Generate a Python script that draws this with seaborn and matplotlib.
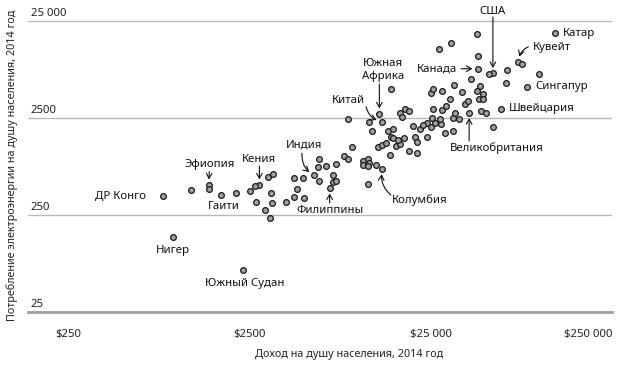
import numpy as np
import pandas as pd
import matplotlib
matplotlib.use("Agg")
import matplotlib.pyplot as plt
import seaborn as sns

sns.set_style("white")
plt.rcParams['font.family'] = ['Noto Sans', 'DejaVu Sans']

# labelled countries: income per capita ($, 2014) and electricity use per capita
labels = ['ДР Конго', 'Нигер', 'Южный Судан', 'Гаити', 'Эфиопия', 'Кения',
          'Индия', 'Филиппины', 'Колумбия', 'Китай', 'Южная\nАфрика', 'Канада',
          'США', 'Катар', 'Кувейт', 'Сингапур', 'Швейцария', 'Великобритания']
label_income = [830, 950, 2300, 1750, 1490, 2840,
                5660, 6930, 13550, 13430, 13030, 45600,
                55100, 121900, 76200, 85300, 61100, 40740]
label_power = [390, 150, 67, 400, 510, 510,
               640, 475, 750, 2280, 2750, 8050,
               7190, 18660, 9440, 5260, 3120, 2840]

# the rest of the countries
other_income = [1190, 1500, 2120, 2520, 2680, 3180, 3370, 2730, 3300, 3330,
                3060, 3240, 3980, 4400, 4930, 4560, 4400, 5010, 6040, 5980,
                6590, 6040, 7520, 7260, 7260, 7520, 8360, 8730, 9250, 8730,
                10590, 11320, 11430, 10590, 11320, 12450, 11250, 11800, 12880, 13430,
                14260, 15140, 14830, 16000, 16830, 14560, 15520, 11480, 16830, 18070,
                18920, 17300, 19910, 15560, 16410, 17820, 19100, 20940, 20560, 20940,
                21880, 23770, 23710, 25290, 25700, 24950, 15030, 22700, 25060, 26550,
                28380, 29990, 33040, 27990, 33340, 35890, 28910, 30550, 33960, 47420,
                50350, 55080, 38730, 40090, 31990, 25700, 28910, 37150, 33500, 41780,
                46770, 44880, 48640, 46450, 48640, 45600, 52720, 45290, 32510, 27800,
                65770, 65160, 79800, 99080]
other_power = [453, 465, 425, 439, 501, 621, 662, 343, 425, 335,
               282, 233, 338, 602, 602, 460, 386, 374, 938, 776,
               800, 561, 834, 650, 551, 561, 1014, 951, 1247, 2427,
               901, 951, 853, 813, 800, 813, 528, 1849, 1265, 1309,
               1371, 1603, 1031, 1300, 1349, 1858, 1941, 2291, 2838, 3097,
               2951, 2559, 2070, 1567, 1466, 1567, 1135, 1097, 1603, 1403,
               1928, 2239, 1603, 2500, 3062, 4529, 4977, 2094, 2042, 2194,
               2143, 1762, 1816, 2460, 2483, 2460, 3020, 3327, 2793, 2931,
               2793, 2004, 3459, 3767, 3954, 4977, 4710, 4634, 5433, 6266,
               5346, 4775, 4416, 3899, 3899, 10890, 7112, 18365, 14723, 12942,
               7816, 5781, 8954, 7063]

x_ticks = [250, 2500, 25000, 250000]
x_tick_labels = ['$250', '$2500', '$25 000', '$250 000']
y_ticks = [25, 250, 2500, 25000]
y_tick_labels = ['25', '250', '2500', '25 000']

# label placement: text offset (pt), alignment, arrow (start offset pt, curvature)
placement = {
    'ДР Конго': ((-12, 0), 'right', None),
    'Нигер': ((0, -9.9), 'center', None),
    'Южный Судан': ((1.7, -9.6), 'center', None),
    'Гаити': ((1.9, -8.2), 'center', None),
    'Эфиопия': ((0.7, 14.9), 'center', ((0.5, 9.6), 0)),
    'Кения': ((-0.4, 18.5), 'center', ((0, 13.7), 0)),
    'Индия': ((-7, 21.8), 'center', ((-8.4, 16), 0.3)),
    'Филиппины': ((0.6, -16.3), 'center', ((0, -10.8), 0)),
    'Колумбия': ((6.8, -22.5), 'left', ((6, -18.9), -0.3)),
    'Китай': ((-12, 15.1), 'right', ((-11.3, 10.8), 0.3)),
    'Южная\nАфрика': ((2.9, 31.7), 'center', ((0, 21.6), 0)),
    'Канада': ((-15.1, 0), 'right', ((-12.2, 0), 0)),
    'США': ((0, 44.5), 'center', ((0, 40.7), 0)),
    'Катар': ((5.3, 0), 'left', None),
    'Кувейт': ((10.1, 10.3), 'left', ((7.2, 11), 0.3)),
    'Сингапур': ((5.5, 0), 'left', None),
    'Швейцария': ((5.8, 0), 'left', None),
    'Великобритания': ((-14.2, -25.6), 'left', ((0, -20.4), 0)),
}

df = pd.DataFrame({'income': label_income + other_income,
                   'power': label_power + other_power})

fig = plt.figure(figsize=(6.26, 3.70), dpi=100)
ax = fig.add_axes([28 / 626, 1 - 312 / 370, (612 - 28) / 626, (312 - 19) / 370])

sns.scatterplot(data=df, x='income', y='power', ax=ax, s=17, color='#a0a0a0',
                edgecolor='#1a1a1a', linewidth=0.9, zorder=3)
ax.set_xscale('log')
ax.set_yscale('log')
ax.set_xlim(150.4, 250000)
ax.set_ylim(25, 26215)
ax.minorticks_off()

ax.set_yticks(y_ticks)
ax.yaxis.grid(True, color='#b8b8b8', lw=1)
ax.tick_params(axis='y', left=False, labelleft=False)
for v, lab in zip(y_ticks, y_tick_labels):
    ax.annotate(lab, xy=(0, v), xycoords=('axes fraction', 'data'), xytext=(2, 3.5),
                textcoords='offset points', ha='left', va='baseline', fontsize=8.2,
                color='#222222')

ax.set_xticks(x_ticks)
ax.set_xticklabels(x_tick_labels)
ax.get_xticklabels()[-1].set_horizontalalignment('right')
ax.tick_params(axis='x', direction='out', length=5, width=1.5, color='#9a9a9a',
               pad=7, labelsize=8.2, labelcolor='#222222')
sns.despine(ax=ax, left=True)
ax.spines['bottom'].set_color('#a0a0a0')
ax.spines['bottom'].set_linewidth(2)
ax.set_xlabel('')
ax.set_ylabel('')

for name, inc, pw in zip(labels, label_income, label_power):
    offset, ha, arrow = placement[name]
    ax.annotate(name, xy=(inc, pw), xytext=offset, textcoords='offset points',
                ha=ha, va='center', fontsize=8.2, color='#111111',
                multialignment='center', linespacing=1.15)
    if arrow is not None:
        start, rad = arrow
        ax.annotate('', xy=(inc, pw), xytext=start, textcoords='offset points',
                    arrowprops=dict(arrowstyle='->,head_length=0.35,head_width=0.2',
                                    lw=0.8, color='#111111', shrinkA=0, shrinkB=4,
                                    connectionstyle='arc3,rad=%s' % rad))

fig.text(12 / 626, 1 - 165 / 370, 'Потребление электроэнергии на душу населения, 2014 год',
         rotation=90, ha='center', va='center', fontsize=7.8, color='#222222')
fig.text(349 / 626, 1 - 355 / 370, 'Доход на душу населения, 2014 год',
         ha='center', va='center', fontsize=7.8, color='#222222')

fig.savefig('out.png', dpi=100)
